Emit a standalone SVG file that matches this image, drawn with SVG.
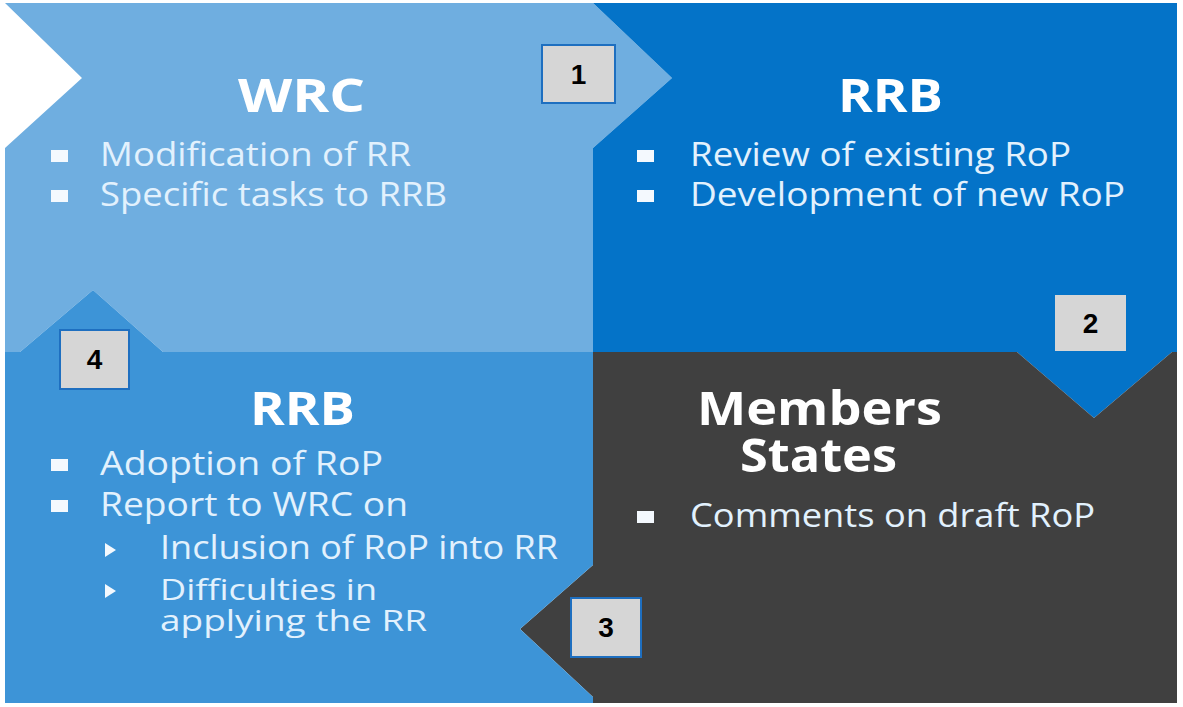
<svg xmlns="http://www.w3.org/2000/svg" width="1183" height="707" viewBox="0 0 1183 707">
<style>
.head{font-family:"Open Sans","Liberation Sans",sans-serif;font-weight:700;font-size:46px;fill:#ffffff}
.body{font-family:"Open Sans","Liberation Sans",sans-serif;font-size:32px;fill:#e2f1fd}
.tight{font-size:30px}
.num{font-family:"Liberation Sans",Arial,sans-serif;font-weight:700;font-size:28px;fill:#000;text-anchor:middle}
.box{fill:#d6d6d6;stroke:#1e6fc0;stroke-width:2}
.bul{fill:#f4f9fe}
</style>
<rect width="1183" height="707" fill="#ffffff"/>
<g id="wrc">
<polygon points="5,3 593,3 672,78 593,148 593,352 163,352 93,290 20,352 5,352 5,148 82,78" fill="#6faee0"/>
<text class="head" x="238" y="112" textLength="127" lengthAdjust="spacingAndGlyphs">WRC</text>
<rect class="bul" x="51" y="150" width="17" height="12"/>
<text class="body" x="100" y="166" textLength="311" lengthAdjust="spacingAndGlyphs">Modification of RR</text>
<rect class="bul" x="51" y="190" width="17" height="12"/>
<text class="body" x="100" y="206" textLength="347" lengthAdjust="spacingAndGlyphs">Specific tasks to RRB</text>
</g>
<g id="rrb-top">
<polygon points="593,3 1177,3 1177,352 1172,352 1094,418 1017,352 593,352 593,148 672,78" fill="#0473c8"/>
<text class="head" x="838" y="112" textLength="105" lengthAdjust="spacingAndGlyphs">RRB</text>
<rect class="bul" x="637" y="150" width="17" height="12"/>
<text class="body" x="690" y="166" textLength="381" lengthAdjust="spacingAndGlyphs">Review of existing RoP</text>
<rect class="bul" x="637" y="190" width="17" height="12"/>
<text class="body" x="690" y="206" textLength="435" lengthAdjust="spacingAndGlyphs">Development of new RoP</text>
</g>
<g id="members">
<polygon points="593,352 1017,352 1094,418 1172,352 1177,352 1177,703 593,703 593,697 520,629 593,565" fill="#404040"/>
<text class="head" x="697" y="425" textLength="245" lengthAdjust="spacingAndGlyphs">Members</text>
<text class="head" x="740" y="472" textLength="157" lengthAdjust="spacingAndGlyphs">States</text>
<rect class="bul" x="637" y="511" width="17" height="12"/>
<text class="body" x="690" y="527" textLength="405" lengthAdjust="spacingAndGlyphs">Comments on draft RoP</text>
</g>
<g id="rrb-bottom">
<polygon points="5,352 20,352 93,290 163,352 593,352 593,565 520,629 593,697 593,703 5,703" fill="#3d94d7"/>
<text class="head" x="250" y="425" textLength="105" lengthAdjust="spacingAndGlyphs">RRB</text>
<rect class="bul" x="51" y="459" width="17" height="12"/>
<text class="body" x="100" y="475" textLength="283" lengthAdjust="spacingAndGlyphs">Adoption of RoP</text>
<rect class="bul" x="51" y="500" width="17" height="12"/>
<text class="body" x="100" y="516" textLength="308" lengthAdjust="spacingAndGlyphs">Report to WRC on</text>
<polygon class="bul" points="105,543 116,550 105,557"/>
<text class="body" x="160" y="559" textLength="398" lengthAdjust="spacingAndGlyphs">Inclusion of RoP into RR</text>
<polygon class="bul" points="105,584 116,591 105,598"/>
<text class="body tight" x="160" y="600" textLength="217" lengthAdjust="spacingAndGlyphs">Difficulties in</text>
<text class="body tight" x="160" y="631" textLength="267" lengthAdjust="spacingAndGlyphs">applying the RR</text>
</g>
<g id="labels">
<g id="step1"><rect class="box" x="542" y="45" width="73" height="58"/><text class="num" x="578.5" y="84">1</text></g>
<g id="step2"><rect x="1055" y="295" width="71" height="56" fill="#d6d6d6"/><text class="num" x="1090.5" y="333">2</text></g>
<g id="step3"><rect class="box" x="571" y="598" width="70" height="59"/><text class="num" x="606" y="637">3</text></g>
<g id="step4"><rect class="box" x="60" y="330" width="69" height="59"/><text class="num" x="94.5" y="369">4</text></g>
</g>
<g id="connectors"></g>
</svg>
